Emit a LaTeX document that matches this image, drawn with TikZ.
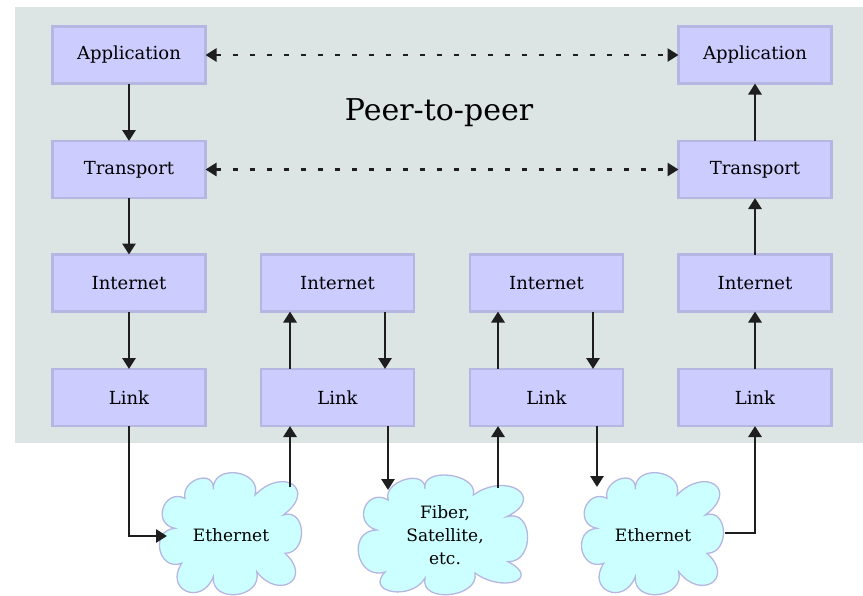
\documentclass[tikz,border=0pt]{standalone}
\usepackage{fontspec}
\setmainfont{DejaVu Serif}
\usetikzlibrary{calc,arrows.meta}
\definecolor{bgc}{HTML}{DCE4E4}
\definecolor{boxf}{HTML}{CCCCFF}
\definecolor{boxd}{HTML}{B6B6E2}
\definecolor{cloudf}{HTML}{CCFFFF}
\definecolor{lin}{HTML}{1E1E1E}
\tikzset{
  layerbox/.style={draw=boxd,line width=2.2pt,fill=boxf,minimum width=153pt,minimum height=57pt,inner sep=0pt,outer sep=0pt,text=black,font=\fontsize{18}{21}\selectfont},
  cloudshape/.style={draw=boxd,line width=1.3pt,fill=cloudf},
  cloudtext/.style={align=center,inner sep=0pt,font=\fontsize{17}{23}\selectfont},
  conn/.style={draw=lin,line width=2.8pt,-{Triangle[length=11pt,width=13pt]}},
  peerconn/.style={draw=lin,line width=2.6pt,dash pattern=on 5pt off 12pt,{Triangle[length=11pt,width=13pt]}-{Triangle[length=11pt,width=13pt]}}
}
\newcommand\lobe[6]{.. controls ($0.433*(#1,#2)+1.333*(#3,#4)-0.767*(#5,#6)$) and ($0.433*(#5,#6)+1.333*(#3,#4)-0.767*(#1,#2)$) .. (#5,#6)}
\newcommand\cloudA{(185,498.3)
 \lobe{185}{498.3}{198.3}{479.3}{213.3}{489.3}
 \lobe{213.3}{489.3}{236.7}{473.3}{255}{495}
 \lobe{255}{495}{293}{485}{283.3}{515}
 \lobe{283.3}{515}{301.7}{531.7}{285}{553.3}
 \lobe{285}{553.3}{290}{583.3}{256.7}{571.7}
 \lobe{256.7}{571.7}{236.7}{595}{213.3}{576.7}
 \lobe{213.3}{576.7}{186.7}{591.7}{181.7}{563.3}
 \lobe{181.7}{563.3}{160}{550}{175}{528.3}
 \lobe{175}{528.3}{163.3}{508.3}{185}{498.3} -- cycle}
\begin{document}
\begin{tikzpicture}[x=1pt,y=-1pt]
\useasboundingbox (0,0) rectangle (863,595);
\fill[bgc] (15,7) rectangle (863,443);
% boxes
\node[layerbox] (A1) at (129,55) {Application};
\node[layerbox] (T1) at (129,169.5) {Transport};
\node[layerbox] (I1) at (129,283) {Internet};
\node[layerbox] (L1) at (129,397.5) {Link};
\node[layerbox] (I2) at (337.5,283) {Internet};
\node[layerbox] (L2) at (337.5,397.5) {Link};
\node[layerbox] (I3) at (546.5,283) {Internet};
\node[layerbox] (L3) at (546.5,397.5) {Link};
\node[layerbox] (A4) at (755,55) {Application};
\node[layerbox] (T4) at (755,169.5) {Transport};
\node[layerbox] (I4) at (755,283) {Internet};
\node[layerbox] (L4) at (755,397.5) {Link};
\node[font=\fontsize{30}{34}\selectfont] (P) at (439,113) {Peer-to-peer};
% clouds
\path[cloudshape] \cloudA;
\begin{scope}[xshift=422pt]
\path[cloudshape] \cloudA;
\end{scope}
\path[cloudshape] (388.3,500)
 \lobe{388.3}{500}{405}{480}{425}{489}
 \lobe{425}{489}{450}{475.7}{473.3}{495}
 \lobe{473.3}{495}{518}{490}{506.7}{516.7}
 \lobe{506.7}{516.7}{528}{536.7}{508}{561.7}
 \lobe{508}{561.7}{515}{582}{475}{573}
 \lobe{475}{573}{450}{595}{425}{578}
 \lobe{425}{578}{393}{592}{385}{572}
 \lobe{385}{572}{359}{555}{376.7}{530}
 \lobe{376.7}{530}{365}{508}{388.3}{500} -- cycle;
\node[cloudtext] (E1) at (231,535) {Ethernet};
\node[cloudtext] (F) at (445,535) {Fiber,\\Satellite,\\etc.};
\node[cloudtext] (E2) at (653,535) {Ethernet};
% connector ends on the clouds
\coordinate (E1w) at (167,536);
\coordinate (E1n) at (290,487);
\coordinate (Fnw) at (388,490);
\coordinate (Fne) at (498,488);
\coordinate (E2n) at (597,487);
\coordinate (E2e) at (725,533);
% connectors
\draw[conn] (A1) -- (T1);
\draw[conn] (T1) -- (I1);
\draw[conn] (I1) -- (L1);
\draw[conn] (L4) -- (I4);
\draw[conn] (I4) -- (T4);
\draw[conn] (T4) -- (A4);
\draw[conn] ([xshift=-47.5pt]L2.north) -- ([xshift=-47.5pt]I2.south);
\draw[conn] ([xshift=47.5pt]I2.south) -- ([xshift=47.5pt]L2.north);
\draw[conn] ([xshift=-48.5pt]L3.north) -- ([xshift=-48.5pt]I3.south);
\draw[conn] ([xshift=46.5pt]I3.south) -- ([xshift=46.5pt]L3.north);
\draw[conn] (L1.south) |- (E1w);
\draw[conn] (E1n) -- (E1n |- L2.south);
\draw[conn] (Fnw |- L2.south) -- (Fnw);
\draw[conn] (Fne) -- (Fne |- L3.south);
\draw[conn] (E2n |- L3.south) -- (E2n);
\draw[conn] (E2e) -| (L4.south);
\draw[peerconn] (A1) -- (A4);
\draw[peerconn] (T1) -- (T4);
\end{tikzpicture}
\end{document}
